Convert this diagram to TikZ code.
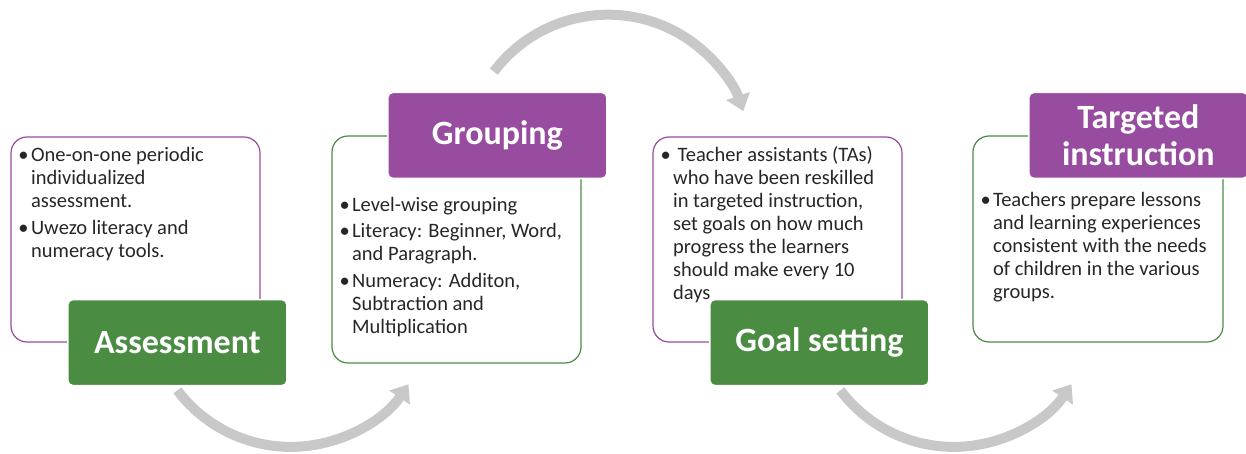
\documentclass[tikz,border=0pt]{standalone}
\usepackage{fontspec}
\setmainfont{Carlito}
\usepackage{tikz}
\usetikzlibrary{positioning}
\usetikzlibrary{arrows.meta}
\definecolor{grpurple}{RGB}{152,76,160}
\definecolor{grgreen}{RGB}{74,140,66}
\definecolor{arcgray}{RGB}{200,200,201}
\definecolor{bodytext}{RGB}{38,38,38}
\tikzstyle{pane}=[draw, rounded corners=16pt, line width=1.2pt,
                minimum width=249pt, minimum height=205pt, inner sep=0]
\tikzstyle{pane purple}=[pane, draw=grpurple]
\tikzstyle{pane green}=[pane, draw=grgreen]
\tikzstyle{head}=[rounded corners=5pt, draw=white, line width=1.5pt,
                minimum width=219pt, minimum height=86pt, text=white, align=center,
                anchor=east, font=\fontsize{34}{37}\selectfont\bfseries]
\tikzstyle{bullets}=[anchor=north west, inner sep=0, align=left, text=bodytext,
                font=\fontsize{20.5}{23}\selectfont]
\tikzstyle{cycle}=[draw=arcgray, line width=10pt, -{Triangle[width=24pt,length=16pt]}]
\newcommand{\bitem}[1]{\makebox[15pt][c]{\textbullet}\begin{tabular}[t]{@{}l@{}}#1\end{tabular}}

\begin{document}
\begin{tikzpicture}[x=1pt,y=1pt]
\useasboundingbox (0,0) rectangle (1246,453);

\node[pane purple] (assessbox) at (135.5,213.5) {};
\node[pane green, minimum height=227pt] (groupbox) at (456.5,203.5) {};
\node[pane purple] (goalbox) at (777.5,213.5) {};
\node[pane green, minimum width=250pt, minimum height=206pt] (targetbox) at (1098,214) {};

\node[head, fill=grgreen] (assess) at ([xshift=27]assessbox.south east) {Assessment};
\node[head, fill=grpurple] (group) at ([xshift=26]groupbox.north east) {Grouping};
\node[head, fill=grgreen] (goal) at ([xshift=27]goalbox.south east) {Goal setting};
\node[head, fill=grpurple] (target) at ([xshift=25]targetbox.north east) {Targeted\\instruction};

% arrows between the steps
\draw[cycle] ([yshift=-4]assess.south) arc (-143:-34:142);
\draw[cycle] ([shift={(-3.5,20)}]group.north) arc (143:19:143);
\draw[cycle] ([shift={(21,-4)}]goal.south) arc (-143:-34:142);

\node[bullets] (assesstext) at ([shift={(5.5,-9)}]assessbox.north west)
  {\bitem{One-on-one periodic\\individualized\\assessment.}\\[3pt]
   \bitem{Uwezo literacy and\\numeracy tools.}};
\node[bullets] (grouptext) at ([shift={(5.5,-60)}]groupbox.north west)
  {\bitem{Level-wise grouping}\\[3pt]
   \bitem{Literacy: Beginner, Word,\\and Paragraph.}\\[3pt]
   \bitem{Numeracy: Additon,\\Subtraction and\\Multiplication}};
\node[bullets] (goaltext) at ([shift={(5.5,-9)}]goalbox.north west)
  {\bitem{\ Teacher assistants (TAs)\\who have been reskilled\\in targeted instruction,\\set goals on how much\\progress the learners\\should make every 10\\days}};
\node[bullets] (targettext) at ([shift={(5.5,-55)}]targetbox.north west)
  {\bitem{Teachers prepare lessons\\and learning experiences\\consistent with the needs\\of children in the various\\groups.}};
\end{tikzpicture}
\end{document}
